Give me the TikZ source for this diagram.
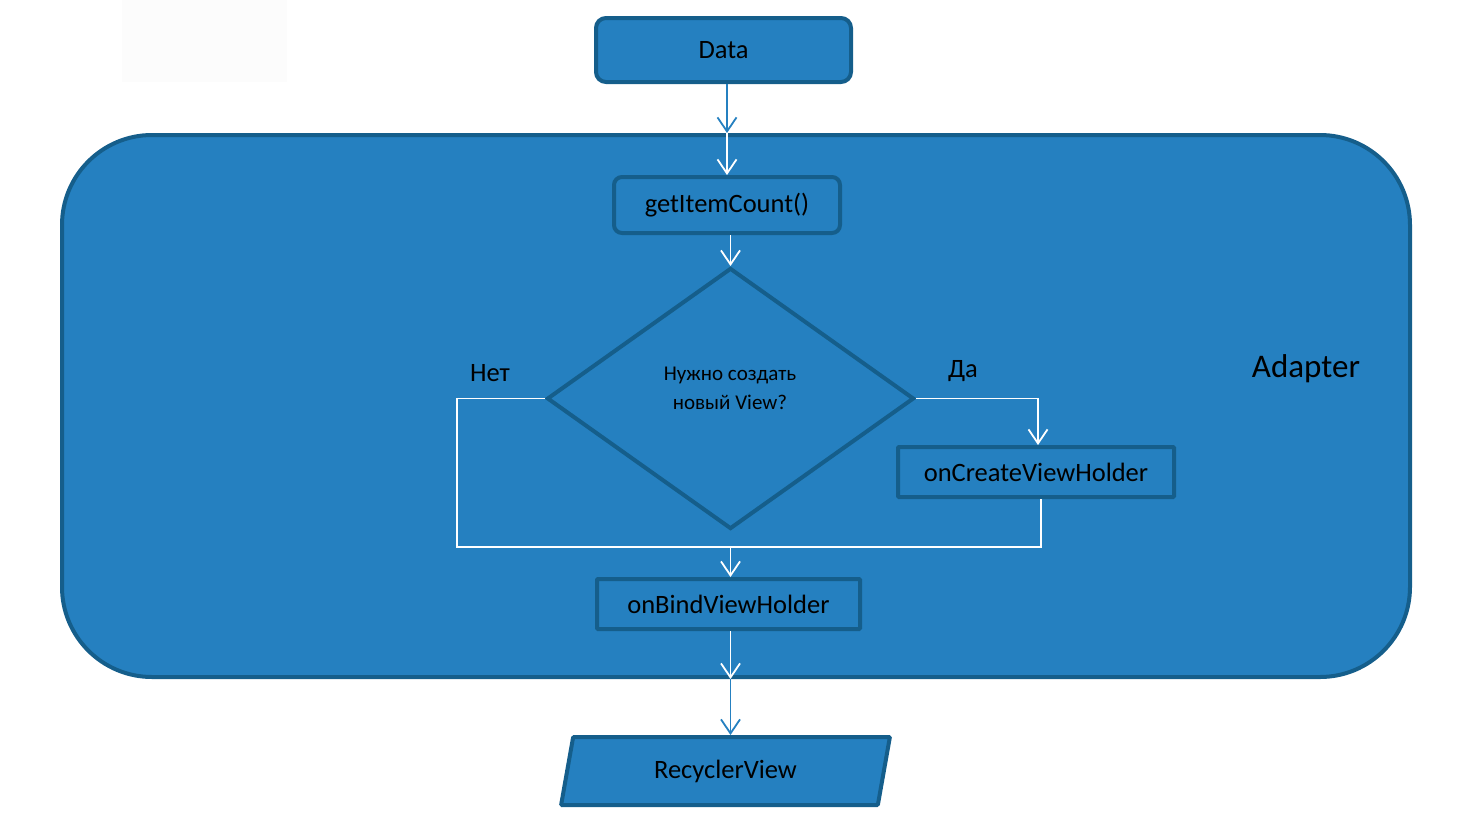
\documentclass[tikz,border=0pt]{standalone}
\usepackage{fontspec}
\setmainfont{Carlito}
\usetikzlibrary{arrows.meta,shapes.geometric}
\definecolor{boxfill}{RGB}{37,128,192}
\definecolor{boxline}{RGB}{21,94,139}
\definecolor{faint}{RGB}{252,252,252}
\tikzset{
  box/.style={draw=boxline, fill=boxfill, line width=4pt, inner sep=0pt, text=black,
    font=\fontsize{26.5}{30}\selectfont},
  whitearr/.style={draw=white, line width=1.8pt, -{Straight Barb[length=14pt,width=19pt,line width=1.8pt]}},
  whiteline/.style={draw=white, line width=1.8pt},
  bluearr/.style={draw=boxfill, line width=1.8pt, -{Straight Barb[length=14pt,width=19pt,line width=1.8pt]}},
  lbl/.style={inner sep=0pt, text=black, font=\fontsize{26.5}{30}\selectfont},
}
\begin{document}
\begin{tikzpicture}[x=1pt,y=-1pt]
\useasboundingbox (0,0) rectangle (1476,815);
\fill[faint] (122,0) rectangle (287,82);
% container
\node[box, rounded corners=90pt, minimum width=1348pt, minimum height=542pt] (adapter) at (736,406) {};
\node[lbl, font=\fontsize{33}{36}\selectfont] (adlbl) at (1306,369) {Adapter};
% nodes
\node[box, rounded corners=10pt, minimum width=255pt, minimum height=64pt] (data) at (723.5,50) {Data};
\node[box, rounded corners=8pt, minimum width=226pt, minimum height=56pt] (getc) at (727,205) {getItemCount()};
\node[box, diamond, minimum width=367pt, minimum height=261pt] (dia) at (730.5,398.5) {};
\node[lbl, align=center, font=\fontsize{21}{29}\selectfont] (q) at (730,388) {Нужно создать\\новый View?};
\node[box, rounded corners=1pt, minimum width=276pt, minimum height=50pt] (create) at (1036,472) {onCreateViewHolder};
\node[box, rounded corners=1pt, minimum width=263pt, minimum height=50pt] (bind) at (728.5,604) {onBindViewHolder};
\node[box, trapezium, trapezium left angle=76, trapezium right angle=104, trapezium stretches=true,
      rounded corners=1pt, minimum width=329pt, minimum height=68pt] (rv) at (725.5,771) {RecyclerView};
\node[lbl] (no) at (490,373) {Нет};
\node[lbl] (yes) at (963,371) {Да};
% connectors
\coordinate (merge) at (730.5,547);
\coordinate (lft) at (457,547);
\draw[bluearr] (data.south -| getc.north) -- (adapter.north -| getc.north);
\draw[whitearr] (adapter.north -| getc.north) -- (getc.north);
\draw[whitearr] (getc.south -| dia.north) -- (dia.north);
\draw[whitearr] (dia.east) -| ([xshift=2pt]create.north);
\draw[whiteline] (dia.west) -| (lft) -- (merge);
\draw[whiteline] ([xshift=5pt]create.south) |- (merge);
\draw[whitearr] (merge) -- (merge |- bind.north);
\draw[whitearr] (bind.south -| merge) -- (adapter.south -| merge);
\draw[bluearr] (adapter.south -| merge) -- (rv.north -| merge);
\end{tikzpicture}
\end{document}
